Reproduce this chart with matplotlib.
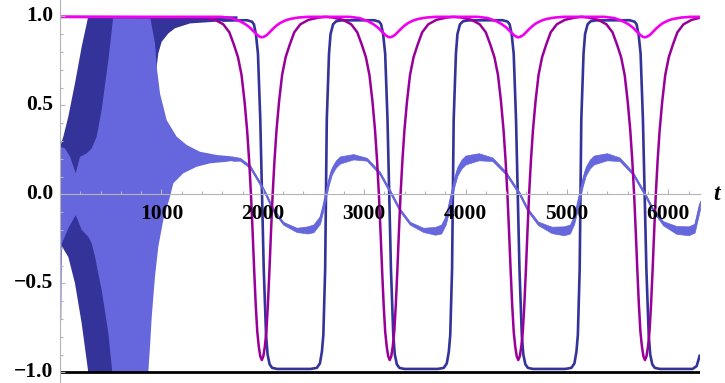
import numpy as np
import matplotlib
matplotlib.use("Agg")
import matplotlib.pyplot as plt
from matplotlib.ticker import FixedLocator

# ---- data -------------------------------------------------------------
# early fast oscillation of the dark component, drawn as its envelope
dark_hi_t = [0, 32, 81, 147, 213, 278, 1750]
dark_hi = [0.267, 0.324, 0.436, 0.624, 0.829, 1.0, 1.0]
dark_lo_t = [0, 81, 147, 213, 278, 850, 900, 953, 969, 1002, 1068, 1134, 1282, 1545, 1750]
dark_lo = [-0.276, -0.352, -0.5, -0.725, -1.0, -1.0, 0.2, 0.717, 0.792, 0.857,
           0.904, 0.933, 0.96, 0.97, 0.975]

# dark component after it settles (square-like switching)
dark_t = [1600, 1842, 1892, 1912, 1932, 1952, 1975, 1992, 2009, 2032, 2047, 2067, 2092, 2142,
          2473, 2533, 2563, 2583, 2597, 2615, 2623, 2631, 2653, 2668, 2693, 2723, 2773,
          3097, 3147, 3167, 3187, 3207, 3230, 3247, 3264, 3287, 3302, 3322, 3347, 3397,
          3725, 3785, 3815, 3835, 3849, 3867, 3875, 3883, 3905, 3920, 3945, 3975, 4025,
          4365, 4415, 4435, 4455, 4475, 4498, 4515, 4532, 4555, 4570, 4590, 4615, 4665,
          4984, 5044, 5074, 5094, 5108, 5126, 5134, 5142, 5164, 5179, 5204, 5234, 5284,
          5617, 5667, 5687, 5707, 5727, 5750, 5767, 5784, 5807, 5822, 5842, 5867, 5917,
          6240, 6280, 6313]
dark_y = [0.976, 0.978, 0.97, 0.955, 0.90, 0.79, 0.42, 0.0, -0.42, -0.79, -0.90, -0.955, -0.975, -0.981,
          -0.981, -0.975, -0.95, -0.884, -0.79, -0.42, 0.0, 0.42, 0.79, 0.90, 0.955, 0.972, 0.977,
          0.978, 0.97, 0.955, 0.90, 0.79, 0.42, 0.0, -0.42, -0.79, -0.90, -0.955, -0.975, -0.981,
          -0.981, -0.975, -0.95, -0.884, -0.79, -0.42, 0.0, 0.42, 0.79, 0.90, 0.955, 0.972, 0.977,
          0.978, 0.97, 0.955, 0.90, 0.79, 0.42, 0.0, -0.42, -0.79, -0.90, -0.955, -0.975, -0.981,
          -0.981, -0.975, -0.95, -0.884, -0.79, -0.42, 0.0, 0.42, 0.79, 0.90, 0.955, 0.972, 0.977,
          0.978, 0.97, 0.955, 0.90, 0.79, 0.42, 0.0, -0.42, -0.79, -0.90, -0.955, -0.975, -0.981,
          -0.981, -0.965, -0.90]

# early fast oscillation of the light component (envelope)
light_hi_t = [0, 48, 98, 154, 196, 262, 312, 361, 410, 476, 525, 887, 936, 953, 986,
              1052, 1150, 1249, 1380, 1545, 1709]
light_hi = [0.267, 0.258, 0.211, 0.118, 0.211, 0.23, 0.258, 0.324, 0.474, 0.754, 1.0, 1.0,
            0.848, 0.717, 0.565, 0.416, 0.324, 0.277, 0.239, 0.221, 0.212]
light_lo_t = [0, 12, 18, 81, 154, 213, 278, 312, 344, 410, 476, 515, 870, 887, 904, 936,
              969, 1018, 1084, 1117, 1215, 1348, 1479, 1644, 1709]
light_lo = [-0.745, -0.70, -0.276, -0.191, -0.117, -0.2, -0.238, -0.276, -0.35, -0.538, -0.78,
            -1.0, -1.0, -0.856, -0.688, -0.463, -0.294, -0.144, -0.013, 0.062, 0.118, 0.155,
            0.174, 0.183, 0.188]

# light component afterwards: slow wave with a noisy band of half-width light_noise
light_t = [1700, 1775, 1874, 1972, 2031, 2104, 2202, 2334, 2440, 2500, 2564, 2595, 2623, 2650,
           2680, 2720, 2761, 2893, 3025, 3156, 3271, 3353, 3452, 3584, 3700, 3760, 3805, 3835,
           3863, 3890, 3920, 3960, 4000, 4130, 4265, 4400, 4537, 4615, 4715, 4850, 4970, 5030,
           5070, 5100, 5129, 5156, 5186, 5226, 5266, 5395, 5520, 5650, 5771, 5850, 5950, 6080,
           6200, 6260, 6313]
light_y = [0.2, 0.197, 0.155, 0.062, 0.0, -0.088, -0.163, -0.2, -0.2, -0.191, -0.144, -0.075,
           0.0, 0.07, 0.13, 0.17, 0.193, 0.211, 0.197, 0.118, 0.0, -0.088, -0.163, -0.2, -0.205,
           -0.195, -0.144, -0.075, 0.0, 0.07, 0.13, 0.17, 0.193, 0.211, 0.197, 0.118, 0.0,
           -0.088, -0.163, -0.2, -0.205, -0.195, -0.144, -0.075, 0.0, 0.07, 0.13, 0.17, 0.193,
           0.211, 0.197, 0.118, 0.0, -0.088, -0.163, -0.2, -0.205, -0.19, -0.06]
light_noise = [0.012, 0.008, 0.008, 0.008, 0.008, 0.008, 0.008, 0.012, 0.02, 0.022, 0.022, 0.02,
               0.02, 0.02, 0.02, 0.02, 0.02, 0.015, 0.008, 0.008, 0.008, 0.008, 0.008, 0.012,
               0.022, 0.025, 0.025, 0.025, 0.025, 0.025, 0.025, 0.025, 0.025, 0.02, 0.01, 0.008,
               0.008, 0.008, 0.01, 0.018, 0.025, 0.025, 0.025, 0.025, 0.025, 0.025, 0.025, 0.025,
               0.025, 0.02, 0.01, 0.008, 0.008, 0.008, 0.012, 0.022, 0.025, 0.025, 0.025]

# purple component: deep dips
purple_t = [0, 1430, 1530, 1610, 1670, 1715, 1755, 1790, 1820, 1845, 1865, 1883, 1900, 1915,
            1930, 1945, 1960, 1975, 1990, 2005, 2020, 2035, 2050, 2065, 2080, 2097, 2115, 2135,
            2160, 2190, 2225, 2265, 2310, 2370, 2450, 2550, 2621,
            2692, 2792, 2872, 2932, 2977, 3017, 3052, 3082, 3107, 3127, 3145, 3162, 3177, 3192,
            3207, 3222, 3237, 3252, 3267, 3282, 3297, 3312, 3327, 3342, 3359, 3377, 3397, 3422,
            3452, 3487, 3527, 3572, 3632, 3712, 3812, 3882,
            3960, 4060, 4140, 4200, 4245, 4285, 4320, 4350, 4375, 4395, 4413, 4430, 4445, 4460,
            4475, 4490, 4505, 4520, 4535, 4550, 4565, 4580, 4595, 4610, 4627, 4645, 4665, 4690,
            4720, 4755, 4795, 4840, 4900, 4980, 5080, 5145,
            5210, 5310, 5390, 5450, 5495, 5535, 5570, 5600, 5625, 5645, 5663, 5680, 5695, 5710,
            5725, 5740, 5755, 5770, 5785, 5800, 5815, 5830, 5845, 5860, 5877, 5895, 5915, 5940,
            5970, 6005, 6045, 6090, 6150, 6230, 6313]
purple_y = [0.997, 0.993, 0.98, 0.955, 0.91, 0.84, 0.77, 0.67, 0.52, 0.36, 0.19, 0.0, -0.22,
            -0.43, -0.62, -0.77, -0.855, -0.91, -0.931, -0.91, -0.855, -0.77, -0.62, -0.43, -0.22,
            0.0, 0.19, 0.36, 0.52, 0.67, 0.77, 0.84, 0.91, 0.955, 0.98, 0.993, 0.997,
            0.993, 0.98, 0.955, 0.91, 0.84, 0.77, 0.67, 0.52, 0.36, 0.19, 0.0, -0.22,
            -0.43, -0.62, -0.77, -0.855, -0.91, -0.931, -0.91, -0.855, -0.77, -0.62, -0.43, -0.22,
            0.0, 0.19, 0.36, 0.52, 0.67, 0.77, 0.84, 0.91, 0.955, 0.98, 0.993, 0.997,
            0.993, 0.98, 0.955, 0.91, 0.84, 0.77, 0.67, 0.52, 0.36, 0.19, 0.0, -0.22,
            -0.43, -0.62, -0.77, -0.855, -0.91, -0.931, -0.91, -0.855, -0.77, -0.62, -0.43, -0.22,
            0.0, 0.19, 0.36, 0.52, 0.67, 0.77, 0.84, 0.91, 0.955, 0.98, 0.993, 0.997,
            0.993, 0.98, 0.955, 0.91, 0.84, 0.77, 0.67, 0.52, 0.36, 0.19, 0.0, -0.22,
            -0.43, -0.62, -0.77, -0.855, -0.91, -0.931, -0.91, -0.855, -0.77, -0.62, -0.43, -0.22,
            0.0, 0.19, 0.36, 0.52, 0.67, 0.77, 0.84, 0.91, 0.955, 0.98, 0.992]

# magenta component: shallow dips near 1
magenta_t = [0, 1590, 1690, 1775, 1830, 1874, 1915, 1950, 1975, 1990, 2010, 2038, 2070, 2104,
             2140, 2170, 2220, 2268, 2350, 2440,
             2853, 2953, 3038, 3093, 3137, 3178, 3213, 3238, 3253, 3273, 3301, 3333, 3367,
             3403, 3433, 3483, 3531, 3613, 3703,
             4120, 4220, 4305, 4360, 4404, 4445, 4480, 4505, 4520, 4540, 4568, 4600, 4634,
             4670, 4700, 4750, 4798, 4880, 4970,
             5368, 5468, 5553, 5608, 5652, 5693, 5728, 5753, 5768, 5788, 5816, 5848, 5882,
             5918, 5948, 5998, 6046, 6128, 6218, 6313]
magenta_y = [0.997, 0.997, 0.99, 0.972, 0.955, 0.936, 0.912, 0.893, 0.884, 0.882, 0.885, 0.894,
             0.912, 0.932, 0.95, 0.962, 0.976, 0.985, 0.993, 0.997,
             0.997, 0.99, 0.972, 0.955, 0.936, 0.912, 0.893, 0.884, 0.882, 0.885, 0.894,
             0.912, 0.932, 0.95, 0.962, 0.976, 0.985, 0.993, 0.997,
             0.997, 0.99, 0.972, 0.955, 0.936, 0.912, 0.893, 0.884, 0.882, 0.885, 0.894,
             0.912, 0.932, 0.95, 0.962, 0.976, 0.985, 0.993, 0.997,
             0.997, 0.99, 0.972, 0.955, 0.936, 0.912, 0.893, 0.884, 0.882, 0.885, 0.894,
             0.912, 0.932, 0.95, 0.962, 0.976, 0.985, 0.993, 0.997, 0.997]

# constant component
black_t = [0, 6313]
black_y = [-1.0, -1.0]

x_ticks = [1000, 2000, 3000, 4000, 5000, 6000]
y_ticks = [-1.0, -0.5, 0.0, 0.5, 1.0]
y_labels = ["\u22121.0", "\u22120.5", "0.0", "0.5", "1.0"]

# ---- style ------------------------------------------------------------
c_dark = "#333399"
c_light = "#6666dd"
c_purple = "#990099"
c_magenta = "#f000f0"
c_axis = "#b4b4b4"

plt.rcParams["font.family"] = ["Liberation Serif", "DejaVu Serif"]
plt.rcParams["font.weight"] = "bold"

fig = plt.figure(figsize=(7.25, 3.83), dpi=100)
ax = fig.add_axes([60.1 / 725, 0.0, (700 - 60.1) / 725, 1.0])
ax.set_xlim(0, 6313)
ax.set_ylim(-1.060, 1.0916)

def envelope(t_hi, hi, t_lo, lo):
    xs = np.concatenate([t_hi, t_lo[::-1]])
    ys = np.concatenate([hi, lo[::-1]])
    return xs, ys

xs, ys = envelope(dark_hi_t, dark_hi, dark_lo_t, dark_lo)
ax.fill(xs, ys, color=c_dark, lw=0, zorder=1.0)
ax.plot(dark_t, dark_y, color=c_dark, lw=1.9, zorder=1.1, solid_capstyle="butt")

xs, ys = envelope(light_hi_t, light_hi, light_lo_t, light_lo)
ax.fill(xs, ys, color=c_light, lw=0, zorder=1.2)
ly = np.array(light_y)
ln = np.array(light_noise)
ax.fill_between(light_t, ly - ln, ly + ln, color=c_light, lw=0.5, zorder=1.3)
ax.plot(light_t, light_y, color=c_light, lw=1.5, zorder=1.3)

ax.plot(purple_t, purple_y, color=c_purple, lw=1.8, zorder=1.5)
ax.plot(magenta_t, magenta_y, color=c_magenta, lw=1.9, zorder=1.7)
ax.plot(black_t, black_y, color="black", lw=2.0, zorder=1.8, solid_capstyle="butt")

# axes through the origin, Mathematica-like
for side in ("top", "right"):
    ax.spines[side].set_visible(False)
ax.spines["left"].set_position(("data", 0))
ax.spines["bottom"].set_position(("data", 0))
for side in ("left", "bottom"):
    ax.spines[side].set_color(c_axis)
    ax.spines[side].set_linewidth(0.8)
ax.set_axisbelow(False)

ax.xaxis.set_major_locator(FixedLocator(x_ticks))
ax.xaxis.set_minor_locator(FixedLocator(np.arange(200, 6313, 200)))
ax.set_yticks(y_ticks, labels=y_labels)
ax.yaxis.set_minor_locator(FixedLocator(np.arange(-0.9, 1.0, 0.1)))
ax.set_xticks(x_ticks, labels=[str(v) for v in x_ticks])

ax.tick_params(which="both", direction="in", color=c_axis, width=0.8, labelsize=15.5)
ax.tick_params(which="major", length=3.6)
ax.tick_params(which="minor", length=2.2)
ax.tick_params(axis="x", pad=7)
ax.tick_params(axis="y", pad=5)
for lbl in ax.get_yticklabels():
    lbl.set_verticalalignment("center")

ax.text(6481, 0.0, "t", style="italic", fontsize=17, ha="center", va="center",
        clip_on=False)

fig.savefig("out.png", dpi=100)
